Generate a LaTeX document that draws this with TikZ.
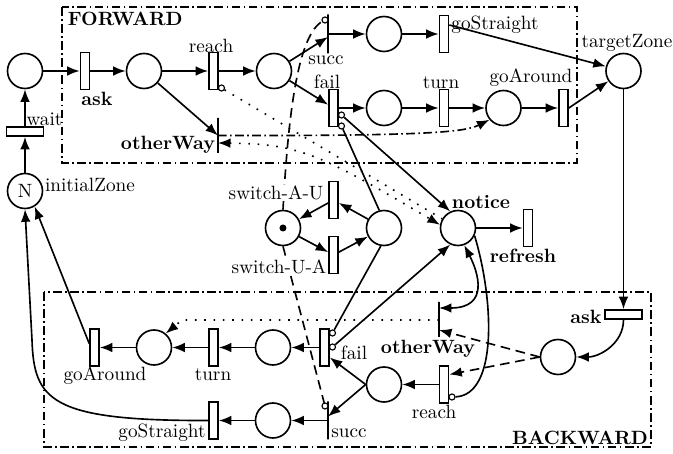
\documentclass[tikz,border=0pt]{standalone}
\usepackage{fontspec}
\usetikzlibrary{arrows.meta,calc}
\newlength\pxu
\setlength\pxu{0.52pt}
\begin{document}
\begin{tikzpicture}[x=0.52pt,y=-0.52pt,
  >={Latex[length=6.5pt,width=5pt]},
  line width=0.85pt,
  place/.style={circle,draw,line width=0.85pt,minimum size=35\pxu,inner sep=0pt},
  trans/.style={rectangle,draw,line width=0.85pt,minimum width=9\pxu,minimum height=37\pxu,inner sep=0pt,fill=white},
  htrans/.style={rectangle,draw,line width=0.85pt,minimum width=37\pxu,minimum height=9\pxu,inner sep=0pt,fill=white},
  bar/.style={rectangle,draw,line width=0.85pt,minimum width=0pt,inner sep=0pt},
  inh/.style={circle,draw,line width=0.6pt,minimum size=6\pxu,inner sep=0pt,fill=white},
  lbl/.style={inner sep=0pt},
  blbl/.style={inner sep=0pt,font=\bfseries},
  arc/.style={->,line width=0.85pt},
  box/.style={dash pattern=on 4.5pt off 1.8pt on 0.8pt off 1.8pt,line width=0.85pt},
  dots/.style={dash pattern=on 0.85pt off 4pt,line width=0.85pt},
  dashedl/.style={dash pattern=on 5pt off 3pt,line width=0.85pt}]
\useasboundingbox (0,0) rectangle (673,454);

% boxes
\draw[box] (62,7) rectangle (577,163);
\draw[box] (44,292) rectangle (651,447);
\node[blbl,anchor=west] (lF) at (67,19) {FORWARD};
\node[blbl] (lB) at (580,438) {BACKWARD};

% forward nodes
\node[place] (P0) at (25,71) {};
\node[trans] (tAskF) at (85,71) {};
\node[place] (P1) at (144,71) {};
\node[trans] (tReachF) at (213.5,71) {};
\node[place] (P2) at (274,71) {};
\node[bar,minimum height=39\pxu] (tSuccF) at (328,34) {};
\node[place] (P3) at (384,34) {};
\node[trans] (tGoStrF) at (444,34) {};
\node[trans] (tFailF) at (333.5,108) {};
\node[place] (P4) at (384,108) {};
\node[trans] (tTurnF) at (444,108) {};
\node[place] (P5) at (503.5,108) {};
\node[trans] (tGoArF) at (563.5,108) {};
\node[place] (PT) at (623.5,71) {};
\node[bar,minimum height=35\pxu] (tOtherF) at (218,135.5) {};
\node[htrans] (tWait) at (25,131.5) {};
\node[place] (PN) at (25,191) {N};

% middle
\node[place] (Ptok) at (283,228) {};
\node[circle,fill,inner sep=0pt,minimum size=7\pxu] (tok) at (283,228) {};
\node[trans] (tAU) at (333.5,200) {};
\node[trans] (tUA) at (333.5,255) {};
\node[place] (Psw) at (384,228) {};
\node[place] (Pnot) at (458,228) {};
\node[trans] (tRef) at (528,228) {};

% backward nodes
\node[htrans] (tAskB) at (623.5,314.5) {};
\node[place] (PB1) at (558,357) {};
\node[bar,minimum height=35\pxu] (tOtherB) at (439,319.5) {};
\node[trans] (tReachB) at (444,384.5) {};
\node[place] (PB2) at (384,384.5) {};
\node[trans] (tFailB) at (324.5,347.5) {};
\node[bar,minimum height=38\pxu] (tSuccB) at (328,420.5) {};
\node[place] (PB3) at (273,347.5) {};
\node[trans] (tTurnB) at (213.5,347.5) {};
\node[place] (PB4) at (154,347.5) {};
\node[trans] (tGoArB) at (94.5,347.5) {};
\node[place] (PB5) at (273,420.5) {};
\node[trans] (tGoStrB) at (213.5,420.5) {};

% labels
\node[blbl] (lAskF) at (97,99) {ask};
\node[lbl] (lWait) at (44.5,119) {wait};
\node[lbl] (lReachF) at (211,46) {reach};
\node[lbl] (lSuccF) at (326,60) {succ};
\node[lbl] (lFailF) at (327,82) {fail};
\node[lbl] (lGoStrF) at (495,25) {goStraight};
\node[lbl] (lTurnF) at (441,83) {turn};
\node[lbl] (lGoArF) at (531,78) {goAround};
\node[lbl] (lTarget) at (627,43) {targetZone};
\node[blbl] (lOtherF) at (168,145) {otherWay};
\node[blbl] (lNot) at (481,202) {notice};
\node[blbl] (lRef) at (523,256) {refresh};
\node[lbl] (lInit) at (90,185) {initialZone};
\node[blbl] (lAskB) at (586,317) {ask};
\node[blbl] (lOtherB) at (428,349) {otherWay};
\node[lbl] (lFailB) at (354,353) {fail};
\node[lbl] (lReachB) at (434,412) {reach};
\node[lbl] (lSuccB) at (349,433) {succ};
\node[lbl] (lTurnB) at (213,375) {turn};
\node[lbl] (lGoArB) at (105,376) {goAround};
\node[lbl] (lGoStrB) at (162,433) {goStraight};

% forward arcs
\draw[arc] (PN) -- (tWait);
\draw[arc] (tWait) -- (P0);
\draw[arc] (P0) -- (tAskF);
\draw[arc] (tAskF) -- (P1);
\draw[arc] (P1) -- (tReachF);
\draw[arc] (tReachF) -- (P2);
\draw[arc] (P2) -- ($(tSuccF.center)+(0,3)$);
\draw[arc] (tSuccF.center) -- (P3);
\draw[arc] (P3) -- (tGoStrF);
\draw[arc] ($(tGoStrF.east)+(0,-9)$) -- (PT);
\draw[arc] (P2) -- (tFailF);
\draw[arc] (tFailF) -- (P4);
\draw[arc] (P4) -- (tTurnF);
\draw[arc] (tTurnF) -- (P5);
\draw[arc] (P5) -- (tGoArF);
\draw[arc] (tGoArF.east) -- (PT);
\draw[arc] (P1) -- (tOtherF.center);
\draw[arc,box] (tOtherF.center) .. controls (430,136) and (465,132) .. (P5.220);
\draw[dots,<->] ($(tOtherF.center)+(0,7.5)$) .. controls (300,144) and (320,154) .. (Pnot.170);

% switch
\draw[arc] (Psw) -- (tAU);
\draw[arc] (tAU) -- (Ptok);
\draw[arc] (Ptok) -- (tUA);
\draw[arc] (tUA) -- (Psw);
\draw[dashedl] (Ptok.north) .. controls (289,100) and (300,30) .. (325,20);
\draw[dashedl] (Ptok.south) -- (325,406);
\draw[arc] (Pnot) -- (tRef);
\node[lbl,fill=white,inner sep=0.5pt] (lAU) at (276,193) {switch-A-U};
\node[lbl,fill=white,inner sep=0.5pt] (lUA) at (279,267) {switch-U-A};

% inhibitor circles
\node[inh] (iReachF) at (221.5,88) {};
\node[inh] (iSuccF) at (325,20) {};
\node[inh] (iFailF1) at (341.5,115) {};
\node[inh] (iFailF2) at (341.5,126) {};
\node[inh] (iReachB) at (452,397) {};
\node[inh] (iFailB1) at (332.5,333) {};
\node[inh] (iFailB2) at (332.5,347) {};
\node[inh] (iSuccB) at (325,406) {};

\draw[dots] (iReachF) -- (Pnot.150);
\draw[arc] (iFailF1) -- (Pnot.115);
\draw (iFailF2) -- (Psw.105);

% backward arcs
\draw[arc] (PT) -- (tAskB);
\draw[arc] (tAskB.south) to[out=-90,in=0] (PB1.east);
\draw[arc,dashedl] (PB1.west) -- ($(tOtherB.center)+(0,10.5)$);
\draw[arc,dashedl] (PB1.west) -- ($(tReachB.east)+(0,-10)$);
\draw[<->] (Pnot.-70) .. controls (478,272) and (490,308) .. ($(tOtherB.center)+(0,-11.5)$);
\draw (Pnot.-25) .. controls (494,300) and (498,395) .. (iReachB);
\draw[arc] (tReachB) -- (PB2);
\draw[arc] (PB2.west) -- ($(tFailB.east)+(0,10)$);
\draw[arc] (PB2.west) -- ($(tSuccB.center)+(0,-4)$);
\draw[arc] (tSuccB.center) -- (PB5);
\draw[arc] (PB5) -- (tGoStrB);
\draw[arc] (tGoStrB.west) .. controls (50,421) and (34,400) .. (32,340) -- (PN.south);
\draw[arc] ($(tGoArB.west)+(0,-4)$) -- (PN.-58);
\draw[arc] (tFailB) -- (PB3);
\draw[arc] (PB3) -- (tTurnB);
\draw[arc] (tTurnB) -- (PB4);
\draw[arc] (PB4) -- (tGoArB);
\draw[dots,->] ($(tOtherB.center)+(0,0.5)$) -- (182,320) -- (PB4.50);
\draw (iFailB1) -- (Psw.-100);
\draw[arc] (iFailB2) -- (Pnot.-115);
\end{tikzpicture}
\end{document}
